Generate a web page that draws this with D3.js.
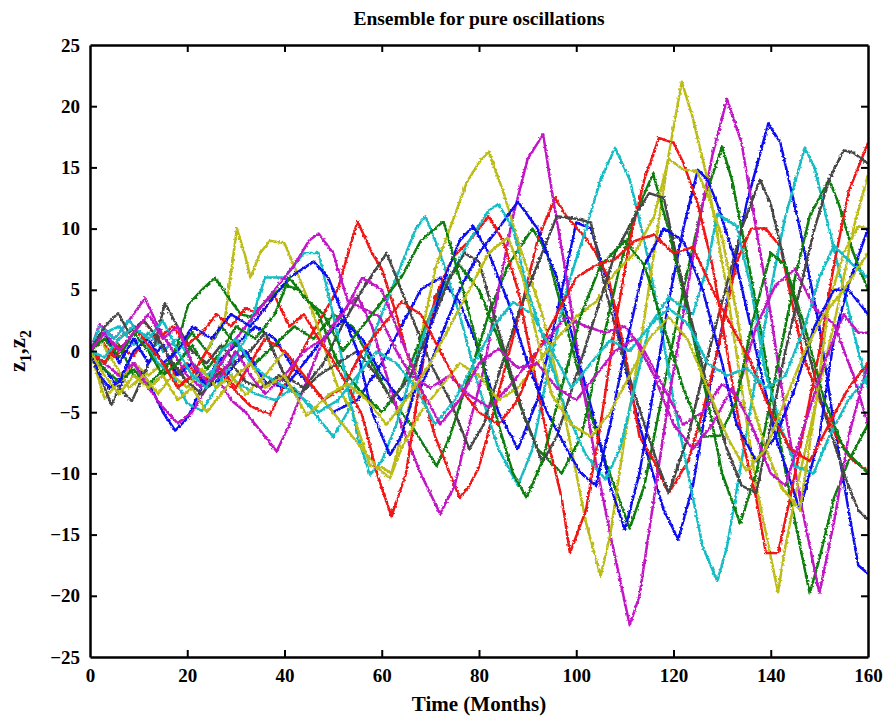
<!DOCTYPE html>
<html>
<head>
<meta charset="utf-8">
<script src="https://cdn.jsdelivr.net/npm/d3@7"></script>
<style>
body { margin: 0; background: #fff; }
text { font-family: "Liberation Serif", "Times New Roman", serif; font-weight: bold; fill: #000; }
</style>
</head>
<body>
<div id="chart"></div>
<script>
const width = 886;
const height = 718;
const margin = { top: 45, right: 18, bottom: 61, left: 90 };

// tick labels
const xTicks = [0, 20, 40, 60, 80, 100, 120, 140, 160];
const yTicks = [-25, -20, -15, -10, -5, 0, 5, 10, 15, 20, 25];

// ensemble members, [month, value]
const blue1 = [[0,0],[3,-1.5],[6,-3],[9,-1],[12,-2.5],[15,-5],[17.5,-6.5],[20,-5.5],[23,-3],[26,-1],[30,0.5],[34,2],[38,1],[42,-1.5],[46,-3],[50,-5],[55,-4],[60,-1],[64,2],[68,5],[72,6],[76,4],[80,0],[84,-5],[88,-8],[92,-4],[96,3],[100,10.5],[103,10],[107,5],[111,-3],[115,-9],[118,-13],[121,-15.4],[124,-11],[127,-4],[131,4],[135,12],[139.5,18.6],[142,17],[146,10],[150,2],[153,-6],[156,-13],[158,-17.5],[160,-18.2]];
const green1 = [[0,0],[3,-1],[6,0.5],[9,-2],[12,-2.8],[15,-1.5],[18,0],[21,1.5],[24,0],[27,2],[30,0.5],[34,-1],[38,0.5],[42,2],[46,1],[50,3],[54,2],[58,-1],[62,-4],[66,-6],[71.3,-9.4],[74,-7],[78,-2],[82,3],[86,7],[91,10],[94,8],[98,2],[102,-4],[106,-9],[111,-14.5],[114,-11],[118,-3],[122,5],[126,12],[130,16.7],[132,14],[136,6],[140,-3],[144,-12],[148,-19.8],[150,-17],[153,-12],[156,-9],[160,-6]];
const red1 = [[0,0],[3,1],[6,0.2],[9,-0.4],[12,1.5],[15,0.5],[17.5,-2],[20,-1],[23,-2.5],[26,-1.5],[30,-3.3],[33,-4.5],[37,-5.2],[41,-2],[45,1],[48,3],[51,5.1],[55,10.6],[58,8],[60,6.7],[63,3],[65,0],[68,-3],[71,-7],[74,-10],[76,-12],[78,-11],[80,-9.5],[83,-5],[86,-0.4],[89,4],[92,9],[95.6,12.5],[98,11],[101.8,9.3],[104,8],[106.6,6],[110,0],[113,-7],[116,-9],[119,-11.6],[123,-9],[126,-5],[129,0],[133,7.3],[136,10],[139,10],[142,8.5],[146.7,-0.4],[150,-4],[153.5,-7],[157,-9],[160,-9.8]];
const cyan1 = [[0,0],[3,1.5],[6,2],[9,0.5],[12,1.5],[15,0],[18,1],[21,-1],[24,-2],[27,-1],[30,-2.5],[34,-3.5],[38,-4],[42,-3],[46,-5],[50,-7],[53,-5],[56,-1],[60,3],[64,7],[67,10],[69,11],[72,8],[76,3],[80,-3],[84,-8],[88,-11],[91,-8],[94,-2],[98,5],[102,10],[105,14],[108,16.6],[111,14],[114,9],[117,3],[120,-4],[123,-10],[126,-16],[129,-18.8],[131,-16],[134,-9],[137,-2],[140,5],[143,11],[147,16.6],[149,15],[152,10],[155,5],[158,0],[160,-3]];
const magenta1 = [[0,0],[2,2.2],[5,1],[8,2.5],[11.3,4.3],[14,2],[17,0],[20,-2],[23,-3],[26,-2],[29,-4],[32,-5],[35,-6.5],[38.4,-8.2],[41,-6],[44,-3],[47,0],[51,2.8],[55,4.5],[58,2],[61,-2],[64,-6],[68,-10],[72,-13.3],[75,-11],[78,-6],[81,-1.5],[84,5],[87,11],[90,15.7],[93.2,17.7],[95,13],[98,6],[101,-2],[104,-9],[107,-15],[111,-22.4],[113,-20],[116,-12],[119,-4],[122,3],[125,10],[128,16],[131,20.6],[134,17],[137,10],[140,3],[143,-5],[146,-12],[150,-19.8],[153,-14],[156,-7],[160,-1]];
const yellow1 = [[0,0],[3,-3.9],[6,-2.5],[9,-1],[12,-2],[15,-1],[18,-3],[21,-2],[24,0],[27.8,2.8],[30.2,10],[31.9,7.8],[33,6],[35,8],[37,9],[40,8.8],[43,6],[46,3],[48,0.5],[51,-3],[54,-5],[57.6,-9.4],[60,-9.5],[62,-10],[64,-7],[66,-4],[68,1],[71,6.7],[74,10],[77.5,13.8],[80,15.4],[82,16.3],[85,13],[88,9],[93,3],[96,-2],[99,-8],[102,-14],[105,-18.4],[107,-15],[110,-7],[113,0],[116,8],[119,16],[121.7,22],[124,19],[127,14],[131,5],[134,-3],[137,-11],[141.5,-19.7],[143,-16],[146,-10],[150,-3],[154,4],[157,10],[160,14.4]];
const gray1 = [[0,0],[2,-2],[4.4,-4.4],[6,-3],[8.6,-4.1],[11,-2],[13,0],[15.4,3.9],[18,2],[21,0],[24,-1],[27,0.5],[30,-1],[33,0],[36,1.5],[40,-2],[44,-3],[48,-1],[52,2.2],[56,5],[61,8],[64,5],[67,2],[70,-1],[74,-4],[78,-8],[81,-6],[84,-2],[88,3],[92,7],[96,11],[100,10.8],[103,10.5],[106,5],[110,-1],[114,-6],[117,-9.5],[119,-11.6],[123,-7],[126,-2],[130,4],[134,10],[137.8,14],[140,12],[143,7],[147,1],[151,-5],[155,-10],[158,-13],[160,-13.8]];
const blue2 = [[0,0],[3,1.5],[6,-1],[9,1],[12,-1],[15,0.5],[18,-2],[21,-1],[24,-3],[28,-2],[32,0],[36,-2.5],[40,-3],[44,-1],[48,1],[52,2.5],[56,1],[60,-2],[64,-4],[68,-3],[72,1],[76,5],[80,8],[84,10],[88,12.2],[92,10],[96,6],[100,0],[104,-6],[107,-11],[110,-14.6],[113,-10],[116,-3],[119,4],[122,10],[125,14.8],[127,14],[129,12],[133,7],[137,0],[141,-7],[146,-13],[150,-7],[153,1],[156,5.4],[160,10]];
const green2 = [[0,0],[3,-1.5],[6,-2.5],[9,-1.5],[12,-3],[15,-2],[18,0.5],[20.2,3.8],[23,5],[25.7,6],[28.4,4.4],[31,3],[33,2.8],[36,4],[40,5.4],[43,5],[47,3],[51,-1],[55,-3],[60,-5],[64,-3],[68,1],[72,5],[76,7],[80,5],[84,1],[88,-4],[92,-8],[97,-10],[101,-7],[105,0],[109,7],[112,11],[115.8,14.5],[119,9.9],[123,3],[127,-4],[130,-10],[133.7,-14.1],[137,-10],[141,-2],[145,6],[148,11],[152,14],[154,12],[157,8],[160,5]];
const red2 = [[0,0],[2,1],[5,-0.5],[8,1],[11,2.5],[14,1],[17,2],[20,0.5],[23,1.5],[26,3],[29,2],[32,3.5],[35,3],[38,4.5],[41,2],[44,3],[47,1],[49.4,-0.4],[52.8,-2.7],[56,-5.3],[59,-10],[62,-13.5],[65,-10],[68,-2],[71,4.4],[74.7,7.7],[78,9],[82,11],[85,9],[88,5],[91,-1],[94,-7],[97,-12],[98.7,-16.5],[102,-13],[105,-6],[108,2],[111,9],[114,14],[117,17.4],[120,17],[122,15.4],[125,12],[128,7],[131,0],[134,-7],[137,-12],[139,-16.5],[141.5,-16.5],[144,-12],[147,-6],[150,0],[153,7],[156,13],[158,15],[160,17]];
const cyan2 = [[0,0],[2,2],[5,1],[8,2.5],[11,1],[14,-1],[17,-2],[20,-4.3],[23,-4.9],[26,-3],[29,-1],[32,1],[36,6],[40,6],[44,8],[47,8],[50,3],[53,-3],[55,-7],[57.6,-10.1],[60,-9],[63,-6],[66,-2],[70,3],[74,6],[78,9],[82,11.5],[84,12],[87,10],[90,5],[94,0],[98,-5],[102,-8.5],[106,-10.5],[109,-8],[112,-3],[115,2],[119,4.4],[124,3],[127,7],[129,11.2],[133,10.2],[136,5],[139,-2],[142,-6],[145,-9.4],[148.8,-10],[152,-7],[156,-4],[160,-2]];
const magenta2 = [[0,0],[3,-1],[6,-2],[9,-1],[12,-3],[15,-4.6],[18,-5.9],[21,-5],[24,-3],[27,-1],[30,1],[34,3],[38,5],[42,7],[45,9],[47,9.6],[50,8],[53,4.1],[56,3.5],[59.6,2.8],[63,0],[66,-2],[70,-3],[74,-2],[78,-3.6],[82,-4.6],[86,-3],[90,-1],[94,1],[98,2.8],[102,2],[106,1.5],[110,2],[114,0],[118,-3],[122,-6],[126,-5],[130,-2.7],[133,-3.6],[137,2],[141,5.4],[145,6.7],[149,3.5],[153,2.2],[157,-2],[160,-6]];
const yellow2 = [[0,0],[2,1],[5,-1],[8,-3],[11,-2],[14,-3.5],[17,-2],[20,-3],[23,-1.5],[26,-3],[29,-2],[32,-3.6],[36,-2],[40,0],[44,-2],[48,-4],[52,-6],[56,-8],[59,-9.5],[61.7,-10.4],[64,-8],[68,-5],[72,-3],[76,-1],[80,-2],[84,-4],[88,-3],[92,-1],[96,1],[100,2.8],[104,4],[108,6.4],[112,8],[116,11],[119,15.7],[122,14.8],[124.8,14.7],[127,12.8],[130,9.3],[133,3],[136,-4],[139,-8],[142,-11],[146,-13],[149,-5],[152,4],[155,8],[158,10.2],[160,10]];
const gray2 = [[0,0],[3,2],[5.8,3.1],[8,1.5],[11,2.5],[14,1],[17,-1],[20,-2.5],[23,-3.5],[26,-2],[29,-1],[32,-2.5],[35,-3],[39,-2],[43,-3.6],[47,-2],[51,-1],[55,0],[59,-2],[62,-4],[66,-2],[70,2],[74,6],[77,8],[80,7.3],[83,3],[86,-1],[89,-5],[93,-9.1],[96,-7],[100,-2],[104,3],[108,8],[112,11],[115,12.9],[118,12.5],[121,7],[124,2],[127,-3],[131,-8],[134,-11],[137,-11.6],[140,-6],[143,0],[146,5],[149,10],[152,14],[155,16.4],[157,16.2],[160,15.3]];
const blue3 = [[0,0],[2,-2],[4,-3],[6,-2.5],[9,0],[12,1],[15,-1],[18,0],[21,2],[25,1],[29,3],[33,2],[37,4],[41,6],[46,7.3],[49,6],[52,3],[55,0],[58,-5],[61.7,-8.5],[64,-7],[67,-3],[70,2],[73,6],[76,9],[78.8,10.2],[82,8],[86,4],[90,-1],[94,-5],[98,-8],[101,-10],[104,-11],[107,-6],[110,0],[114,7],[118,10],[122,9],[126,5],[130,-1],[133,-6],[137,-9],[141,-7],[145,-3],[149,2],[153,5],[156,5],[160,3]];
const green3 = [[0,0],[3,1],[6,-0.5],[9,1.5],[12,0],[15,-2],[18,-1],[21,0.5],[24,-1.5],[27,0],[30,2],[34,1],[38,3],[41,6],[44,4.4],[48,3],[52,0],[56,2],[60,4],[64,6],[68,9],[72.7,10.6],[76,6],[80,0],[84,-6],[87,-10],[89.8,-12],[93,-9],[97,-3],[101,3],[105,7],[110,9],[114,7],[118,2],[122,-3],[126,-7],[129.6,-6.9],[133,-4],[136,2],[140,8],[143,7],[147,2],[151,-4],[155,-8],[160,-10]];
const red3 = [[0,0],[3,-1],[6,1],[9,2],[12,0.5],[15,-1],[18,-3],[21,-2],[24,0],[27,-1.5],[30,-3],[33,-1],[36,1],[40,0],[44,-2],[48,-4],[52,-3],[56,0],[60,2],[64,4],[68,3],[72,0],[76,-3],[80,-5],[84,-6],[88,-4],[92,0],[96,3],[100,6],[104,7],[108,7.5],[112,9],[116,9.5],[120,8],[124,8.5],[128,5],[132,2],[136,-1],[140,-5],[144,-8],[148,-9],[152,-6],[156,-3],[160,-1]];
const cyan3 = [[0,0],[3,-0.5],[6,1],[9,2],[12,1],[15,2.5],[18,0],[21,-2],[24,-3],[27,0],[30,1],[33,-1],[36,-2],[39,-2.7],[43,-3.6],[47,-5],[51,-4],[55,-2],[59,0],[63,-1],[67,-3],[71,-6],[75,-4],[79,-1],[83,2],[87,4],[91,3],[95,0],[99,-3],[103,-1],[107,0.9],[111,0],[115,2],[119,3.5],[123,2.2],[127,-1],[131,-2],[135,-1.4],[139,-3],[143,-2],[147,2],[150,6],[153,8.6],[157,7],[160,6]];
const magenta3 = [[0,0],[3,1.5],[6,0],[9,1.5],[12,3],[15,1],[18,2],[21,-1],[24,-2.5],[27,-2],[30,0],[33,-2],[36,-3.5],[40,-2],[44,0],[48,1],[52,3],[56,6],[60,5],[64,1],[68,-3],[72,-6],[76,-4],[80,-1],[84,0.2],[88,-1.4],[92,-1],[96,-3],[100,-4],[104,-2],[108,0],[112,1],[116,-2],[120,-6],[124,-8],[128,-6],[132,-3],[136,-6],[140,-10],[143,-11],[147,-6],[151,-1],[155,3],[158,1.5],[160,1.5]];
const yellow3 = [[0,0],[3,-2],[6,-3.5],[9,-2],[12,-3],[15,-2],[18,-4],[21,-3],[24,-5],[27,-3.5],[30,-2],[33,-1],[36,-3],[40,-2],[44.6,-5.3],[49,-3.6],[53,-2.7],[57,-4],[61,-6],[65,-4],[70,-1],[74,2],[78,5],[82,8],[86,9.3],[89,6],[92,1],[95,-3.6],[99,-6],[103,-7],[107,-5],[111,-2],[115,1],[119,2.8],[123,0.9],[127,-3],[131,-7],[135,-9.8],[139,-8],[143,-4],[147,0],[151,3],[155,5],[160,8]];

// plot order follows the colour cycle
const series = [
  { data: blue1, color: "#1010f0" }, { data: green1, color: "#0a7d0a" }, { data: red1, color: "#f01414" },
  { data: cyan1, color: "#14bcc4" }, { data: magenta1, color: "#c014c4" }, { data: yellow1, color: "#bcbc14" },
  { data: gray1, color: "#464646" },
  { data: blue2, color: "#1010f0" }, { data: green2, color: "#0a7d0a" }, { data: red2, color: "#f01414" },
  { data: cyan2, color: "#14bcc4" }, { data: magenta2, color: "#c014c4" }, { data: yellow2, color: "#bcbc14" },
  { data: gray2, color: "#464646" },
  { data: blue3, color: "#1010f0" }, { data: green3, color: "#0a7d0a" }, { data: red3, color: "#f01414" },
  { data: cyan3, color: "#14bcc4" }, { data: magenta3, color: "#c014c4" }, { data: yellow3, color: "#bcbc14" }
];

const svg = d3.select("#chart")
    .append("svg")
    .attr("width", width)
    .attr("height", height)
    .style("background", "#fff");

const x = d3.scaleLinear().domain([0, 160]).range([margin.left, width - margin.right]);
const y = d3.scaleLinear().domain([-25, 25]).range([height - margin.bottom, margin.top]);

// roughen the strokes a little so they look like the noisy traces
const defs = svg.append("defs");
const rough = defs.append("filter").attr("id", "rough")
    .attr("x", "-2%").attr("y", "-2%").attr("width", "104%").attr("height", "104%");
rough.append("feTurbulence").attr("type", "fractalNoise").attr("baseFrequency", 0.45).attr("numOctaves", 1).attr("seed", 3).attr("result", "n");
rough.append("feDisplacementMap").attr("in", "SourceGraphic").attr("in2", "n").attr("scale", 3.5)
    .attr("xChannelSelector", "R").attr("yChannelSelector", "G");

defs.append("clipPath").attr("id", "plotclip")
  .append("rect")
    .attr("x", margin.left).attr("y", margin.top)
    .attr("width", width - margin.left - margin.right)
    .attr("height", height - margin.top - margin.bottom);

const line = d3.line()
    .x(d => x(d[0]))
    .y(d => y(d[1]));

const lines = svg.append("g")
    .attr("clip-path", "url(#plotclip)")
  .append("g")
    .attr("filter", "url(#rough)");

lines.selectAll("path")
    .data(series)
    .enter()
    .append("path")
    .attr("d", d => line(d.data))
    .attr("fill", "none")
    .attr("stroke", d => d.color)
    .attr("stroke-width", 2.5)
    .attr("stroke-linejoin", "round");

// axes: ticks pointing inwards on all four sides
const tickLen = 7;
const axBottom = svg.append("g")
    .attr("transform", `translate(0,${y(-25)})`)
    .call(d3.axisBottom(x).tickValues(xTicks).tickSizeInner(-tickLen).tickSizeOuter(0).tickPadding(12));
const axTop = svg.append("g")
    .attr("transform", `translate(0,${y(25)})`)
    .call(d3.axisTop(x).tickValues(xTicks).tickSizeInner(-tickLen).tickSizeOuter(0).tickFormat(""));
const axLeft = svg.append("g")
    .attr("transform", `translate(${x(0)},0)`)
    .call(d3.axisLeft(y).tickValues(yTicks).tickSizeInner(-tickLen).tickSizeOuter(0).tickPadding(10)
      .tickFormat(d => d < 0 ? "\u2212" + Math.abs(d) : d));
const axRight = svg.append("g")
    .attr("transform", `translate(${x(160)},0)`)
    .call(d3.axisRight(y).tickValues(yTicks).tickSizeInner(-tickLen).tickSizeOuter(0).tickFormat(""));

[axBottom, axTop, axLeft, axRight].forEach(g => {
  g.select(".domain").attr("stroke", "#000").attr("stroke-width", 2.5);
  g.selectAll(".tick line").attr("stroke", "#000").attr("stroke-width", 2);
  g.selectAll(".tick text")
    .style("font-family", "'Liberation Serif', serif")
    .style("font-weight", "bold")
    .style("font-size", "19px")
    .attr("fill", "#000");
});
// remove tick marks sitting on the corners
[axBottom, axTop].forEach(g => g.selectAll(".tick line").filter(d => d === 0 || d === 160).remove());
[axLeft, axRight].forEach(g => g.selectAll(".tick line").filter(d => d === -25 || d === 25).remove());

// title and labels
svg.append("text")
    .attr("x", (x(0) + x(160)) / 2)
    .attr("y", 25)
    .attr("text-anchor", "middle")
    .style("font-size", "19.5px")
    .text("Ensemble for pure oscillations");

svg.append("text")
    .attr("x", (x(0) + x(160)) / 2)
    .attr("y", 711)
    .attr("text-anchor", "middle")
    .style("font-size", "21px")
    .text("Time (Months)");

const ylab = svg.append("text")
    .attr("transform", `translate(25,${y(0)}) rotate(-90)`)
    .attr("text-anchor", "middle")
    .style("font-size", "23px");
ylab.append("tspan").text("z");
ylab.append("tspan").attr("dy", 6).style("font-size", "16px").text("1");
ylab.append("tspan").attr("dy", -6).text(",z");
ylab.append("tspan").attr("dy", 6).style("font-size", "16px").text("2");
</script>
</body>
</html>
